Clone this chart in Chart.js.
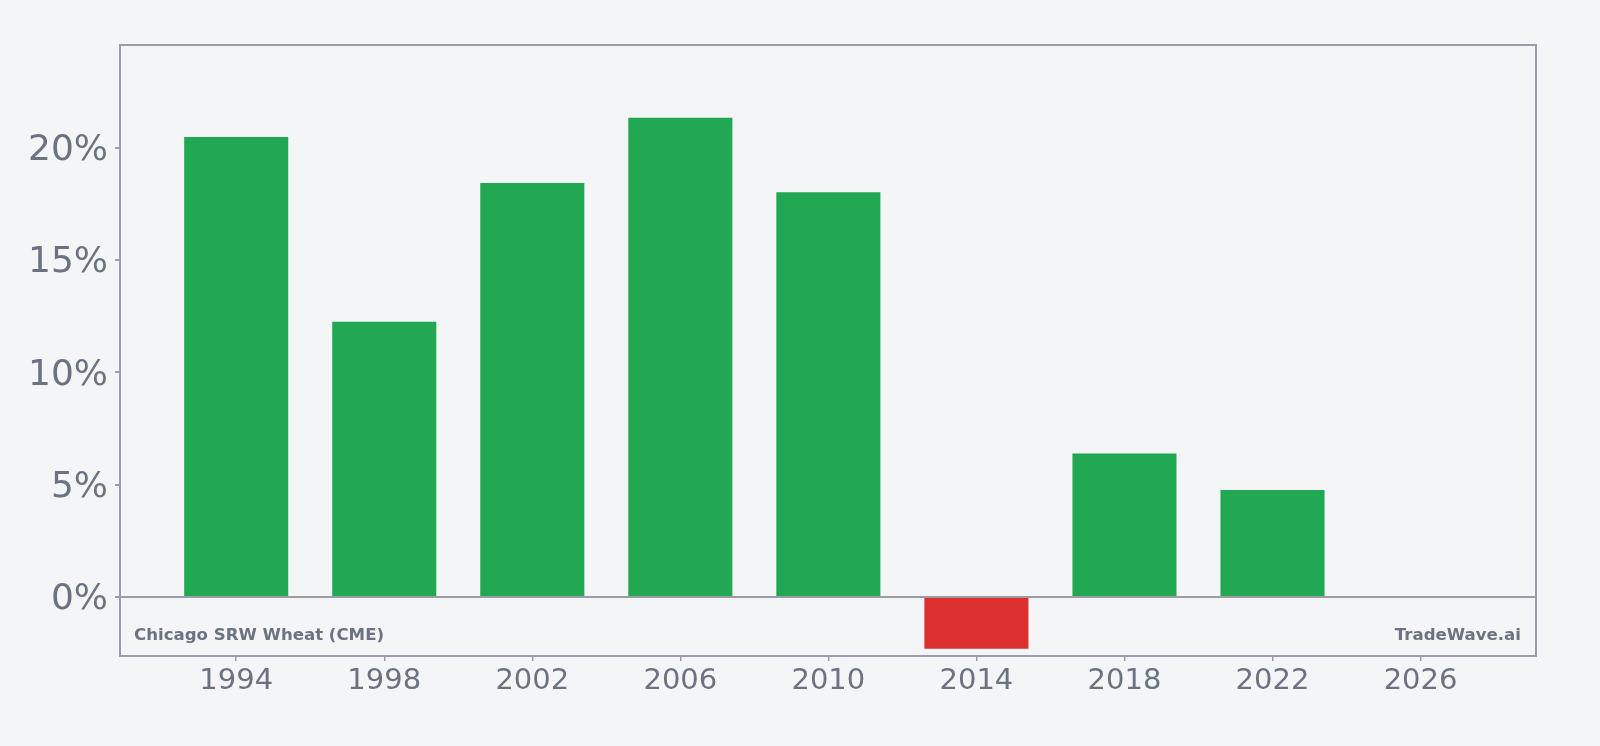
<!DOCTYPE html>
<html>
<head>
<meta charset="utf-8">
<script src="https://cdn.jsdelivr.net/npm/chart.js@4.4.1/dist/chart.umd.min.js"></script>
<style>
  html, body { margin: 0; padding: 0; background: #f4f5f7; }
  #wrap { width: 1600px; height: 746px; }
</style>
</head>
<body>
<div id="wrap"><canvas id="chart"></canvas></div>
<script>
// yearly returns
const years = [1994, 1998, 2002, 2006, 2010, 2014, 2018, 2022];
const returns = [20.47, 12.25, 18.43, 21.33, 18.02, -2.31, 6.39, 4.76];
const yTicks = [0, 5, 10, 15, 20];
const xTicks = [1994, 1998, 2002, 2006, 2010, 2014, 2018, 2022, 2026];
const sourceLabel = 'Chicago SRW Wheat (CME)';
const brandLabel = 'TradeWave.ai';

const textColor = '#6b7280';
const frameColor = '#9a9ca6';
const upColor = '#22a853';
const downColor = '#dc2f2f';

const frame = {
  id: 'frame',
  afterDraw(chart) {
    const { ctx, chartArea: a } = chart;
    ctx.save();
    ctx.strokeStyle = frameColor;
    ctx.lineWidth = 2;
    ctx.strokeRect(a.left, a.top, a.right - a.left, a.bottom - a.top);
    ctx.font = 'bold 16.6px "DejaVu Sans"';
    ctx.fillStyle = textColor;
    ctx.textBaseline = 'alphabetic';
    ctx.textAlign = 'left';
    ctx.fillText(sourceLabel, a.left + 14, a.bottom - 16);
    ctx.textAlign = 'right';
    ctx.fillText(brandLabel, a.right - 15, a.bottom - 16);
    ctx.restore();
  }
};

new Chart(document.getElementById('chart'), {
  type: 'bar',
  data: {
    datasets: [{
      data: years.map((y, i) => ({ x: y, y: returns[i] })),
      backgroundColor: c => (c.raw && c.raw.y < 0 ? downColor : upColor),
      barPercentage: 1,
      categoryPercentage: 0.703
    }]
  },
  options: {
    responsive: true,
    maintainAspectRatio: false,
    animation: false,
    layout: { padding: { top: 45, right: 64, left: 0, bottom: 0 } },
    plugins: { legend: { display: false }, tooltip: { enabled: false } },
    scales: {
      x: {
        type: 'linear',
        offset: false,
        min: 1990.86,
        max: 2029.12,
        afterBuildTicks: s => { s.ticks = xTicks.map(v => ({ value: v })); },
        afterFit: s => { s.height = 90; },
        border: { display: false },
        grid: { offset: false, drawOnChartArea: false, tickLength: 5, tickColor: frameColor, lineWidth: 1.5 },
        ticks: {
          color: textColor,
          font: { family: 'DejaVu Sans', size: 29 },
          padding: 3,
          maxRotation: 0,
          callback: v => String(v)
        }
      },
      y: {
        min: -2.63,
        max: 24.57,
        afterBuildTicks: s => { s.ticks = yTicks.map(v => ({ value: v })); },
        afterFit: s => { s.width = 120; },
        border: { display: false },
        grid: {
          color: c => (c.tick && c.tick.value === 0 ? frameColor : 'transparent'),
          lineWidth: 2,
          tickLength: 5,
          tickColor: frameColor
        },
        ticks: {
          color: textColor,
          font: { family: 'DejaVu Sans', size: 36 },
          padding: 7,
          labelOffset: 3,
          callback: v => v + '%'
        }
      }
    }
  },
  plugins: [frame]
});
</script>
</body>
</html>
